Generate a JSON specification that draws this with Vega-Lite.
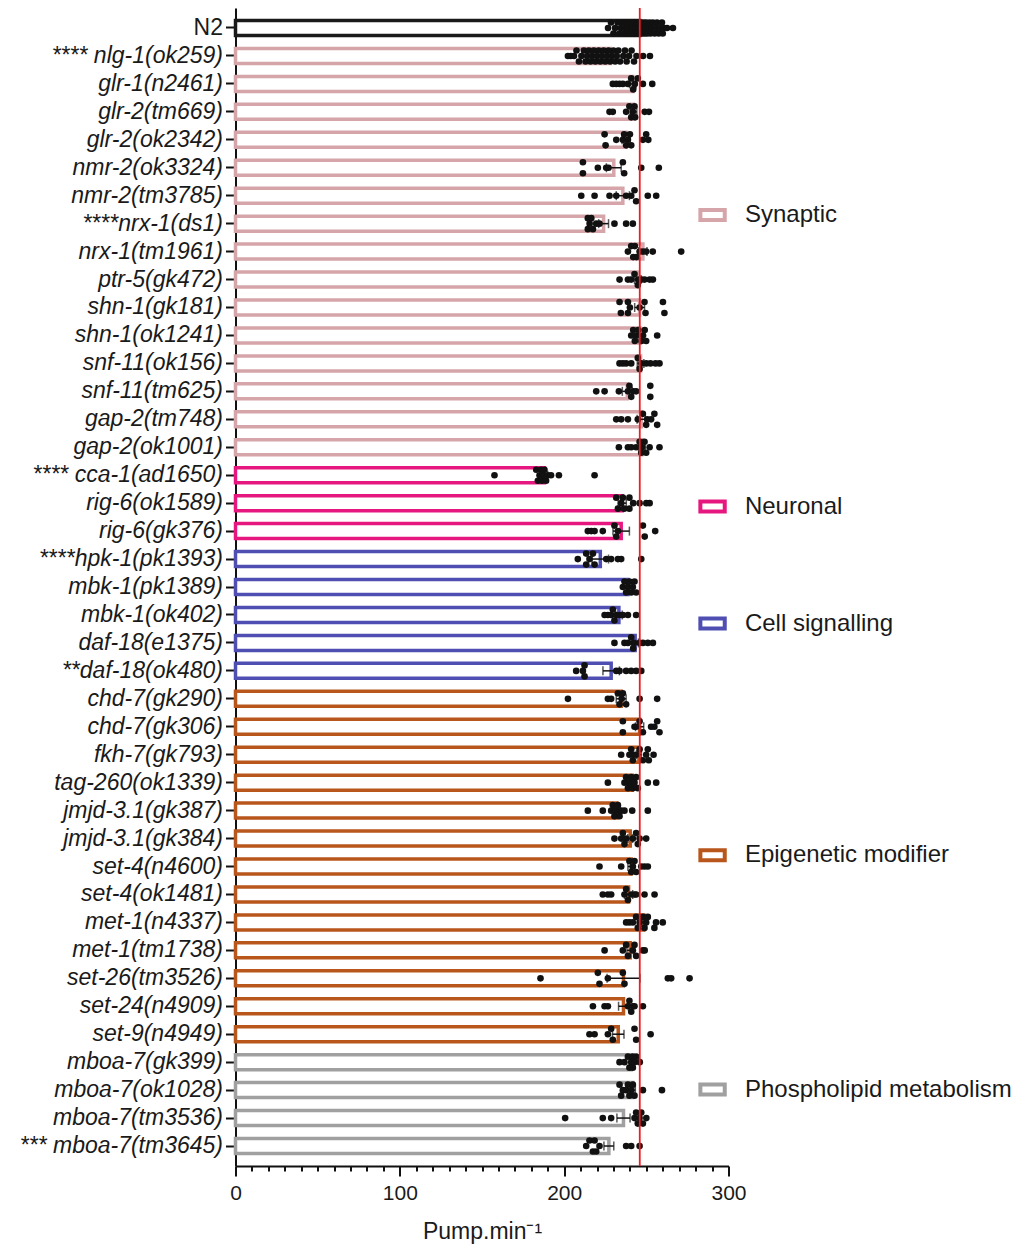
{
  "$schema": "https://vega.github.io/schema/vega-lite/v6.json",
  "width": 493,
  "height": 1158,
  "autosize": {"type": "none"},
  "padding": {"left": 235.5, "top": 8, "right": 297.5, "bottom": 79},
  "background": "white",
  "config": {
    "view": {"stroke": null},
    "font": "Liberation Sans",
    "axisX": {
      "values": [0,10,20,30,40,50,60,70,80,90,100,110,120,130,140,150,160,170,180,190,200,210,220,230,240,250,260,270,280,290,300],
      "labelExpr": "datum.value % 100 === 0 ? datum.label : ''",
      "tickColor": "#111", "tickWidth": 2,
      "domainColor": "#111", "domainWidth": 2,
      "grid": false, "labelOverlap": false, "labelFlush": false,
      "labelFont": "Liberation Sans", "labelFontSize": 21, "labelColor": "#1a1a1a", "labelPadding": 6,
      "titleFont": "Liberation Sans", "titleFontSize": 23, "titleFontWeight": "normal", "titleColor": "#1a1a1a", "titlePadding": 17
    }
  },
  "datasets": {
    "bars": [
      {"strain": "N2", "group": "N2", "mean": 246, "sem": 0.8},
      {"strain": "**** nlg-1(ok259)", "group": "Synaptic", "mean": 228, "sem": 1.5},
      {"strain": "glr-1(n2461)", "group": "Synaptic", "mean": 241.8, "sem": 2},
      {"strain": "glr-2(tm669)", "group": "Synaptic", "mean": 242.2, "sem": 2},
      {"strain": "glr-2(ok2342)", "group": "Synaptic", "mean": 237.7, "sem": 2.5},
      {"strain": "nmr-2(ok3324)", "group": "Synaptic", "mean": 230.2, "sem": 4.5},
      {"strain": "nmr-2(tm3785)", "group": "Synaptic", "mean": 235.7, "sem": 4},
      {"strain": "****nrx-1(ds1)", "group": "Synaptic", "mean": 224, "sem": 3},
      {"strain": "nrx-1(tm1961)", "group": "Synaptic", "mean": 247.9, "sem": 2.5},
      {"strain": "ptr-5(gk472)", "group": "Synaptic", "mean": 244.8, "sem": 2},
      {"strain": "shn-1(gk181)", "group": "Synaptic", "mean": 245.9, "sem": 3},
      {"strain": "shn-1(ok1241)", "group": "Synaptic", "mean": 246.3, "sem": 1.5},
      {"strain": "snf-11(ok156)", "group": "Synaptic", "mean": 246.5, "sem": 2},
      {"strain": "snf-11(tm625)", "group": "Synaptic", "mean": 238.4, "sem": 3},
      {"strain": "gap-2(tm748)", "group": "Synaptic", "mean": 246.9, "sem": 2.5},
      {"strain": "gap-2(ok1001)", "group": "Synaptic", "mean": 247.3, "sem": 2},
      {"strain": "**** cca-1(ad1650)", "group": "Neuronal", "mean": 188, "sem": 2},
      {"strain": "rig-6(ok1589)", "group": "Neuronal", "mean": 235.3, "sem": 2.5},
      {"strain": "rig-6(gk376)", "group": "Neuronal", "mean": 234.7, "sem": 5},
      {"strain": "****hpk-1(pk1393)", "group": "Cell signalling", "mean": 222, "sem": 5},
      {"strain": "mbk-1(pk1389)", "group": "Cell signalling", "mean": 238.8, "sem": 1},
      {"strain": "mbk-1(ok402)", "group": "Cell signalling", "mean": 233.3, "sem": 2},
      {"strain": "daf-18(e1375)", "group": "Cell signalling", "mean": 243.2, "sem": 2},
      {"strain": "**daf-18(ok480)", "group": "Cell signalling", "mean": 228.6, "sem": 5},
      {"strain": "chd-7(gk290)", "group": "Epigenetic modifier", "mean": 234.7, "sem": 3},
      {"strain": "chd-7(gk306)", "group": "Epigenetic modifier", "mean": 245.9, "sem": 2.5},
      {"strain": "fkh-7(gk793)", "group": "Epigenetic modifier", "mean": 245.5, "sem": 1.5},
      {"strain": "tag-260(ok1339)", "group": "Epigenetic modifier", "mean": 241.4, "sem": 1.5},
      {"strain": "jmjd-3.1(gk387)", "group": "Epigenetic modifier", "mean": 232.1, "sem": 2},
      {"strain": "jmjd-3.1(gk384)", "group": "Epigenetic modifier", "mean": 240.2, "sem": 1.5},
      {"strain": "set-4(n4600)", "group": "Epigenetic modifier", "mean": 240.8, "sem": 2},
      {"strain": "set-4(ok1481)", "group": "Epigenetic modifier", "mean": 239.2, "sem": 2.5},
      {"strain": "met-1(n4337)", "group": "Epigenetic modifier", "mean": 248.5, "sem": 1.5},
      {"strain": "met-1(tm1738)", "group": "Epigenetic modifier", "mean": 240.2, "sem": 2},
      {"strain": "set-26(tm3526)", "group": "Epigenetic modifier", "mean": 236.1, "sem": 10},
      {"strain": "set-24(n4909)", "group": "Epigenetic modifier", "mean": 236.1, "sem": 3},
      {"strain": "set-9(n4949)", "group": "Epigenetic modifier", "mean": 232.9, "sem": 3.5},
      {"strain": "mboa-7(gk399)", "group": "Phospholipid metabolism", "mean": 240.8, "sem": 1},
      {"strain": "mboa-7(ok1028)", "group": "Phospholipid metabolism", "mean": 241.8, "sem": 1.5},
      {"strain": "mboa-7(tm3536)", "group": "Phospholipid metabolism", "mean": 236.1, "sem": 4},
      {"strain": "*** mboa-7(tm3645)", "group": "Phospholipid metabolism", "mean": 227.2, "sem": 3}
    ],
    "dots": [
      {"strain": "N2", "v": [226.7,228.5,230,231,232.5,233.5,234.5,235.5,236.5,237,238,238.5,239.5,240,240.5,241.5,242,242.5,243.5,244,244.5,245,245.5,246,246.5,247,247.5,248,248.5,249,249.5,250,250.5,251.5,252,252.5,253.5,254,255,256,256.5,257.5,258.5,259.5,260,261,262.6,266.2], "lane": [0,-1,1,0,-1,1,0,-1,1,0,-1,1,0,-1,1,0,-1,1,0,-1,1,0,-1,1,0,-1,1,0,-1,1,0,-1,1,0,-1,1,0,-1,1,0,-1,1,0,-1,1,0,0,0]},
      {"strain": "**** nlg-1(ok259)", "v": [202.3,204,206,207.5,209,210.5,212,213,214,215,216,217,218,219,220,221,222,223,224,225,226,227,228,229,230,231,232,233,234,236,237,238,239.5,241,242.5,244,248,252.2], "lane": [0,0,0,-1,1,0,-1,1,0,-1,1,0,-1,1,0,-1,1,0,-1,1,0,-1,1,0,-1,1,0,-1,1,0,-1,1,0,-1,1,0,0,0]},
      {"strain": "glr-1(n2461)", "v": [229.6,231.7,233.7,235.7,238.8,240.8,242,243,244.8,247.9,253.6], "lane": [0,0,0,0,0,-1,1,0,-1,0,0]},
      {"strain": "glr-2(tm669)", "v": [227.6,229.6,237.7,239.7,240.8,241.8,242.8,243.2,249,251.6], "lane": [0,0,0,-1,1,0,-1,1,0,0]},
      {"strain": "glr-2(ok2342)", "v": [224.6,225.2,231.7,235.7,236.5,237.7,238.8,240,240.8,247.9,249.9,251.2], "lane": [-1,1,0,0,-1,1,0,-1,1,0,-1,0]},
      {"strain": "nmr-2(ok3324)", "v": [211.4,211.4,220.5,225.6,227,235.7,236.5,246.9,257.6], "lane": [-1,1,0,0,0,-1,1,0,0]},
      {"strain": "nmr-2(tm3785)", "v": [210.4,218.5,227.6,231.7,237.7,240.8,242.8,243.8,250.9,256], "lane": [0,0,0,0,0,0,-1,1,0,0]},
      {"strain": "****nrx-1(ds1)", "v": [214.4,214.4,215.5,216.5,217.5,219.5,221.5,230.6,237.7,241.8], "lane": [-1,1,0,-1,1,0,0,0,0,0]},
      {"strain": "nrx-1(tm1961)", "v": [238.8,240.8,242,243,244,245.9,247.9,249.9,253.9,271.2], "lane": [0,-1,1,-1,1,0,0,0,0,0]},
      {"strain": "ptr-5(gk472)", "v": [233.7,238.8,240.8,242.8,244.8,245,246.9,248.9,252,254], "lane": [0,0,0,-1,1,0,0,0,0,0]},
      {"strain": "shn-1(gk181)", "v": [233.7,234.5,238.8,238.8,240,245.9,248.9,249.5,260.1,261], "lane": [-1,1,-1,1,0,0,-1,1,-1,1]},
      {"strain": "shn-1(ok1241)", "v": [240.8,242,243,244,245,247,248,249,249.9,256.6], "lane": [0,-1,1,0,-1,1,0,-1,1,0]},
      {"strain": "snf-11(ok156)", "v": [233.7,235.7,237.7,240.8,244.8,245.9,247,249.9,252.5,255.6,258], "lane": [0,0,0,0,-1,1,0,0,0,0,0]},
      {"strain": "snf-11(tm625)", "v": [219.5,224.6,233.3,238.8,239.7,240.8,242,243.8,252.4,252.4], "lane": [0,0,0,0,-1,1,0,0,-1,1]},
      {"strain": "gap-2(tm748)", "v": [231.7,234.7,238.8,244.8,247.9,249.9,250.5,252.9,254.9,256.6], "lane": [0,0,0,0,-1,1,0,0,-1,1]},
      {"strain": "gap-2(ok1001)", "v": [233.3,238.8,240.8,243.8,245.9,246.9,247.5,248.9,249.9,252,258], "lane": [0,0,0,0,-1,1,0,-1,1,0,0]},
      {"strain": "**** cca-1(ad1650)", "v": [157.6,183,184,185,186,186.5,187,188,189,190,192,196.8,218.5], "lane": [0,-1,1,0,-1,1,0,-1,1,0,0,0,0]},
      {"strain": "rig-6(ok1589)", "v": [231.7,232.7,234.7,235.7,236.5,239.7,239.7,242,245.9,250,252], "lane": [-1,1,0,-1,1,-1,1,0,0,0,0]},
      {"strain": "rig-6(gk376)", "v": [214.4,216.5,218.5,223.5,230.6,231.7,232.7,247.9,249,255.4], "lane": [0,0,0,0,-1,1,0,-1,1,0]},
      {"strain": "****hpk-1(pk1393)", "v": [208.3,213.4,213.4,215.4,217.5,218.5,225.6,228.6,232.7,234.7,246.9], "lane": [0,-1,1,0,-1,1,0,0,0,0,0]},
      {"strain": "mbk-1(pk1389)", "v": [235.7,236.7,237.7,238.8,239.7,240.8,241.8,242.8,243.8], "lane": [0,-1,1,0,-1,1,0,-1,1]},
      {"strain": "mbk-1(ok402)", "v": [224.6,226.6,228.6,229.6,230.6,231.7,233.7,235.7,238.8,243.8], "lane": [0,0,0,-1,1,0,0,0,0,0]},
      {"strain": "daf-18(e1375)", "v": [230.6,236.7,238.8,240.8,242,242.5,245.9,247.9,250.9,254], "lane": [0,0,0,-1,1,0,0,0,0,0]},
      {"strain": "**daf-18(ok480)", "v": [207.3,211.4,212.4,212.4,231.7,233.7,237.7,240.8,243.8,246.9], "lane": [0,0,-1,1,0,0,0,0,0,0]},
      {"strain": "chd-7(gk290)", "v": [202.3,226.6,228.6,232.7,233.7,235,235.7,237.7,245.9,256.6], "lane": [0,0,0,-1,1,0,-1,1,0,0]},
      {"strain": "chd-7(gk306)", "v": [235.7,235.7,242.8,243.8,245.9,247.9,252.9,254.9,256.6,258], "lane": [-1,1,0,0,-1,1,0,0,-1,1]},
      {"strain": "fkh-7(gk793)", "v": [234.7,239.7,240.8,241.8,242,243.8,245.9,247.9,249.9,250.9,251.5,254.4], "lane": [0,0,-1,1,0,0,-1,1,0,-1,1,0]},
      {"strain": "tag-260(ok1339)", "v": [226.6,236.7,237.7,238.8,239.7,240.8,241.8,242.8,243.8,244.8,250.9,256], "lane": [0,0,-1,1,0,-1,1,0,-1,1,0,0]},
      {"strain": "jmjd-3.1(gk387)", "v": [214.4,223.5,228.6,229.6,230.6,231.7,232.7,233.7,234.7,236.7,241.4,250.9], "lane": [0,0,0,-1,1,0,-1,1,0,0,0,0]},
      {"strain": "jmjd-3.1(gk384)", "v": [230.6,234.7,235.7,236.7,237.7,241.8,243.8,244.8,245.9,249.9], "lane": [0,0,-1,1,0,0,-1,1,0,0]},
      {"strain": "set-4(n4600)", "v": [221.5,234.7,239.7,240.8,241.8,242.8,243.8,246.9,248.9,250.9], "lane": [0,0,-1,1,0,-1,1,0,0,0]},
      {"strain": "set-4(ok1481)", "v": [223.5,226.6,228.6,236.7,237.7,238.8,240.8,242.8,243.8,248.9,255], "lane": [0,0,0,0,-1,1,0,0,0,0,0]},
      {"strain": "met-1(n4337)", "v": [237.7,239.7,241.8,243.8,244.8,245.9,247.9,248.9,249.9,250.9,254.9,255.9,260], "lane": [0,0,0,-1,1,0,-1,1,0,-1,1,0,0]},
      {"strain": "met-1(tm1738)", "v": [224.6,235.7,237.7,238.8,241.8,242.8,243.8,247.9,249], "lane": [0,0,-1,1,0,-1,1,0,0]},
      {"strain": "set-26(tm3526)", "v": [185.6,220.5,221.5,226.6,235.7,236.7,263.1,265.1,276.3], "lane": [0,-1,1,0,-1,1,0,0,0]},
      {"strain": "set-24(n4909)", "v": [217.5,224.6,226.6,238.8,239.7,240.8,241.8,242.8,247.9], "lane": [0,0,0,0,-1,1,0,0,0]},
      {"strain": "set-9(n4949)", "v": [215.4,218.5,226.6,228.6,229.6,242.8,243.8,252.6], "lane": [0,0,0,-1,1,-1,1,0]},
      {"strain": "mboa-7(gk399)", "v": [233.7,236.7,238.8,239.7,240.8,241.8,241.8,242.8,243.8,246], "lane": [0,0,-1,1,0,-1,1,0,-1,0]},
      {"strain": "mboa-7(ok1028)", "v": [233.7,234.7,235.7,237.7,238.8,239.7,240.8,241.8,242.8,247.9,259.5], "lane": [-1,1,0,0,-1,1,0,-1,1,0,0]},
      {"strain": "mboa-7(tm3536)", "v": [200.6,223.5,228.6,242.8,243.8,244.8,245.9,246.9,247.9,250], "lane": [0,0,0,0,-1,1,0,-1,1,0]},
      {"strain": "*** mboa-7(tm3645)", "v": [213.4,215.4,217.5,218.5,219.5,221.5,237.7,240.8,245.9], "lane": [0,-1,1,-1,1,0,0,0,0]}
    ],
    "legend": [
      {"group": "Synaptic", "row": 6.69},
      {"group": "Neuronal", "row": 17.12},
      {"group": "Cell signalling", "row": 21.31},
      {"group": "Epigenetic modifier", "row": 29.6},
      {"group": "Phospholipid metabolism", "row": 37.98}
    ]
  },
  "layer": [
    {
      "layer": [
        {
          "data": {"name": "bars"},
          "mark": {"type": "bar", "fill": "white", "strokeWidth": 3.5, "size": 15},
          "encoding": {
            "y": {
              "field": "strain", "type": "nominal", "title": null,
              "scale": {
                "domain": ["N2","**** nlg-1(ok259)","glr-1(n2461)","glr-2(tm669)","glr-2(ok2342)","nmr-2(ok3324)","nmr-2(tm3785)","****nrx-1(ds1)","nrx-1(tm1961)","ptr-5(gk472)","shn-1(gk181)","shn-1(ok1241)","snf-11(ok156)","snf-11(tm625)","gap-2(tm748)","gap-2(ok1001)","**** cca-1(ad1650)","rig-6(ok1589)","rig-6(gk376)","****hpk-1(pk1393)","mbk-1(pk1389)","mbk-1(ok402)","daf-18(e1375)","**daf-18(ok480)","chd-7(gk290)","chd-7(gk306)","fkh-7(gk793)","tag-260(ok1339)","jmjd-3.1(gk387)","jmjd-3.1(gk384)","set-4(n4600)","set-4(ok1481)","met-1(n4337)","met-1(tm1738)","set-26(tm3526)","set-24(n4909)","set-9(n4949)","mboa-7(gk399)","mboa-7(ok1028)","mboa-7(tm3536)","*** mboa-7(tm3645)"],
                "paddingInner": 0, "paddingOuter": 0.215
              },
              "axis": {
                "domainColor": "#111", "domainWidth": 2,
                "tickColor": "#111", "tickWidth": 2, "tickSize": 10,
                "labelFont": "Liberation Sans", "labelFontSize": 23, "labelColor": "#1a1a1a",
                "labelPadding": 3, "labelLimit": 400,
                "labelFontStyle": {"condition": {"test": "datum.value === 'N2'", "value": "normal"}, "value": "italic"}
              }
            },
            "x": {
              "field": "mean", "type": "quantitative", "title": "Pump.min⁻¹",
              "scale": {"domain": [0, 300], "nice": false},
              "axis": {
                "values": [0,10,20,30,40,50,60,70,80,90,100,110,120,130,140,150,160,170,180,190,200,210,220,230,240,250,260,270,280,290,300],
                "labelExpr": "datum.value % 100 === 0 ? datum.label : ''",
                "tickSize": {"condition": {"test": "datum.value % 100 === 0", "value": 10}, "value": 5}
              }
            },
            "stroke": {
              "field": "group", "type": "nominal", "legend": null,
              "scale": {
                "domain": ["N2", "Synaptic", "Neuronal", "Cell signalling", "Epigenetic modifier", "Phospholipid metabolism"],
                "range": ["#1a1a1a", "#d5a5a9", "#e6187f", "#4f4fb3", "#b9561c", "#a0a0a0"]
              }
            }
          }
        },
        {
          "data": {"name": "bars"},
          "mark": {"type": "errorbar", "ticks": {"size": 9}, "color": "#111", "thickness": 1.5},
          "encoding": {
            "y": {"field": "strain", "type": "nominal", "title": null},
            "x": {"field": "mean", "type": "quantitative", "title": "Pump.min⁻¹",
              "axis": {
                "values": [0,10,20,30,40,50,60,70,80,90,100,110,120,130,140,150,160,170,180,190,200,210,220,230,240,250,260,270,280,290,300],
                "labelExpr": "datum.value % 100 === 0 ? datum.label : ''",
                "tickSize": {"condition": {"test": "datum.value % 100 === 0", "value": 10}, "value": 5}
              }},
            "xError": {"field": "sem"}
          }
        },
        {
          "data": {"name": "dots"},
          "transform": [{"flatten": ["v", "lane"]}],
          "mark": {"type": "point", "filled": true, "color": "#111", "size": 44, "opacity": 1},
          "encoding": {
            "y": {"field": "strain", "type": "nominal", "title": null},
            "yOffset": {"field": "lane", "type": "quantitative", "scale": {"domain": [-1, 1], "range": [8.5, 19.5]}},
            "x": {"field": "v", "type": "quantitative", "title": "Pump.min⁻¹",
              "axis": {
                "values": [0,10,20,30,40,50,60,70,80,90,100,110,120,130,140,150,160,170,180,190,200,210,220,230,240,250,260,270,280,290,300],
                "labelExpr": "datum.value % 100 === 0 ? datum.label : ''",
                "tickSize": {"condition": {"test": "datum.value % 100 === 0", "value": 10}, "value": 5}
              }}
          }
        },
        {
          "data": {"name": "bars"},
          "transform": [{"filter": "datum.strain === 'N2'"}],
          "mark": {"type": "rule", "color": "#ee1c24", "strokeWidth": 1.8},
          "encoding": {
            "x": {"field": "mean", "type": "quantitative", "title": "Pump.min⁻¹",
              "axis": {
                "values": [0,10,20,30,40,50,60,70,80,90,100,110,120,130,140,150,160,170,180,190,200,210,220,230,240,250,260,270,280,290,300],
                "labelExpr": "datum.value % 100 === 0 ? datum.label : ''",
                "tickSize": {"condition": {"test": "datum.value % 100 === 0", "value": 10}, "value": 5}
              }}
          }
        }
      ]
    },
    {
      "data": {"name": "legend"},
      "layer": [
        {
          "mark": {"type": "point", "shape": "M-1,-0.41H1V0.41H-1Z", "filled": false, "fill": "white", "size": 595, "strokeWidth": 4, "opacity": 1},
          "encoding": {
            "x": {"datum": 290.3, "type": "quantitative", "title": "Pump.min⁻¹",
              "axis": {
                "values": [0,10,20,30,40,50,60,70,80,90,100,110,120,130,140,150,160,170,180,190,200,210,220,230,240,250,260,270,280,290,300],
                "labelExpr": "datum.value % 100 === 0 ? datum.label : ''",
                "tickSize": {"condition": {"test": "datum.value % 100 === 0", "value": 10}, "value": 5}
              }},
            "y": {"field": "row", "type": "quantitative", "scale": {"domain": [-0.715, 40.715], "reverse": true, "nice": false, "zero": false}, "axis": null},
            "stroke": {"field": "group", "type": "nominal", "legend": null}
          }
        },
        {
          "mark": {"type": "text", "align": "left", "baseline": "middle", "fontSize": 24, "font": "Liberation Sans", "color": "#1a1a1a"},
          "encoding": {
            "x": {"datum": 310, "type": "quantitative", "title": "Pump.min⁻¹",
              "axis": {
                "values": [0,10,20,30,40,50,60,70,80,90,100,110,120,130,140,150,160,170,180,190,200,210,220,230,240,250,260,270,280,290,300],
                "labelExpr": "datum.value % 100 === 0 ? datum.label : ''",
                "tickSize": {"condition": {"test": "datum.value % 100 === 0", "value": 10}, "value": 5}
              }},
            "y": {"field": "row", "type": "quantitative", "axis": null},
            "text": {"field": "group"}
          }
        }
      ]
    }
  ],
  "resolve": {"scale": {"y": "independent"}}
}
